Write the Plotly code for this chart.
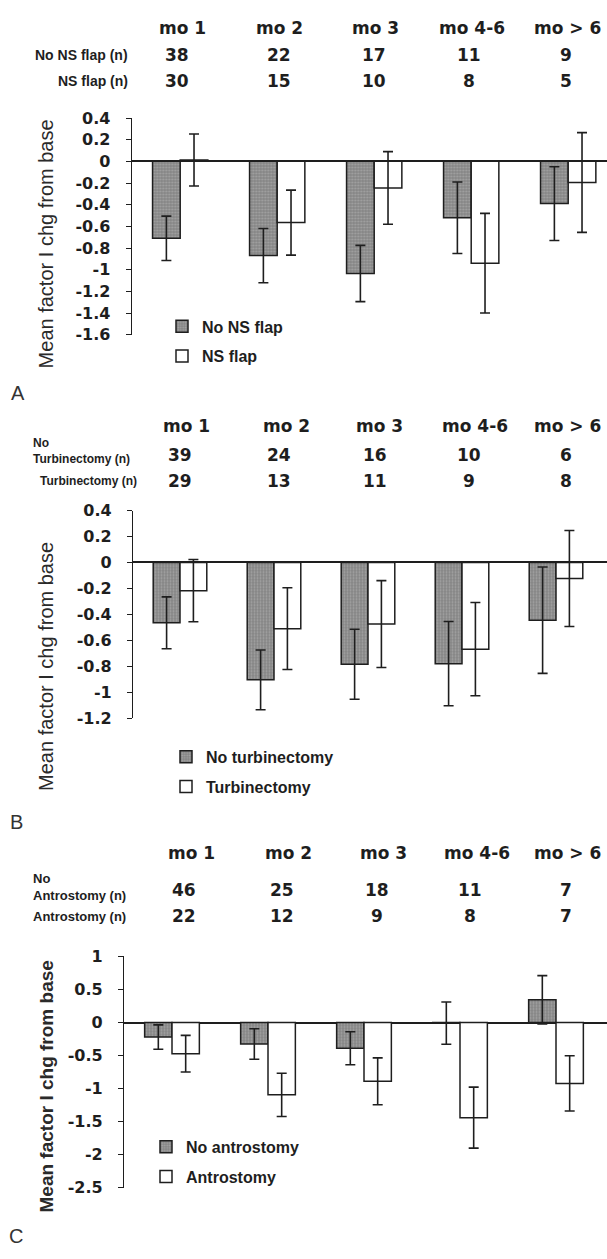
import plotly.graph_objects as go

W, H = 607, 1259

categories = ["mo 1", "mo 2", "mo 3", "mo 4-6", "mo > 6"]

# Panel A: nasoseptal flap
a_row_labels = ["No NS flap (n)", "NS flap (n)"]
a_n_no = [38, 22, 17, 11, 9]
a_n_yes = [30, 15, 10, 8, 5]
a_no = [-0.71, -0.87, -1.035, -0.52, -0.39]
a_no_err = [0.205, 0.25, 0.26, 0.33, 0.34]
a_yes = [0.012, -0.565, -0.245, -0.94, -0.195]
a_yes_err = [0.24, 0.30, 0.335, 0.46, 0.46]
a_legend = ["No NS flap", "NS flap"]
a_ticks = [0.4, 0.2, 0, -0.2, -0.4, -0.6, -0.8, -1, -1.2, -1.4, -1.6]

# Panel B: turbinectomy
b_row_labels = ["No<br>Turbinectomy (n)", "Turbinectomy (n)"]
b_n_no = [39, 24, 16, 10, 6]
b_n_yes = [29, 13, 11, 9, 8]
b_no = [-0.465, -0.905, -0.785, -0.78, -0.445]
b_no_err = [0.20, 0.23, 0.27, 0.325, 0.41]
b_yes = [-0.217, -0.51, -0.475, -0.668, -0.123]
b_yes_err = [0.24, 0.315, 0.335, 0.36, 0.37]
b_legend = ["No turbinectomy", "Turbinectomy"]
b_ticks = [0.4, 0.2, 0, -0.2, -0.4, -0.6, -0.8, -1, -1.2]

# Panel C: antrostomy
c_row_labels = ["No<br>Antrostomy (n)", "Antrostomy (n)"]
c_n_no = [46, 25, 18, 11, 7]
c_n_yes = [22, 12, 9, 8, 7]
c_no = [-0.22, -0.325, -0.39, -0.01, 0.345]
c_no_err = [0.185, 0.23, 0.25, 0.32, 0.365]
c_yes = [-0.472, -1.095, -0.89, -1.44, -0.922]
c_yes_err = [0.278, 0.328, 0.355, 0.462, 0.418]
c_legend = ["No antrostomy", "Antrostomy"]
c_ticks = [1, 0.5, 0, -0.5, -1, -1.5, -2, -2.5]

y_title = "Mean factor I chg from base"


def px(x):
    return x / W


def py(y):
    return 1 - y / H


def tick_text(v):
    if v == int(v):
        return str(int(v))
    return ("%g" % v)


INK = "#1e1e1e"
GRAY = "#8d8d8d"
BAR_FONT = "DejaVu Sans"
TXT_FONT = "Liberation Sans, Arial, sans-serif"

fig = go.Figure()

panels = [
    dict(key="", no=a_no, no_err=a_no_err, yes=a_yes, yes_err=a_yes_err,
         legend=a_legend, lg="legend", ticks=a_ticks),
    dict(key="2", no=b_no, no_err=b_no_err, yes=b_yes, yes_err=b_yes_err,
         legend=b_legend, lg="legend2", ticks=b_ticks),
    dict(key="3", no=c_no, no_err=c_no_err, yes=c_yes, yes_err=c_yes_err,
         legend=c_legend, lg="legend3", ticks=c_ticks),
]

for i, p in enumerate(panels):
    xa = "x" + p["key"]
    ya = "y" + p["key"]
    fig.add_trace(go.Bar(
        x=categories, y=p["no"], name=p["legend"][0], xaxis=xa, yaxis=ya,
        legend=p["lg"], legendgroup="g%d0" % i,
        marker=dict(color=GRAY, line=dict(color=INK, width=1.5),
                    pattern=dict(shape=".", fgcolor="#c4c4c4", bgcolor="#858585",
                                 size=3, solidity=0.35)),
        error_y=dict(type="data", array=p["no_err"], visible=True,
                     color=INK, thickness=1.6, width=5),
    ))
    fig.add_trace(go.Bar(
        x=categories, y=p["yes"], name=p["legend"][1], xaxis=xa, yaxis=ya,
        legend=p["lg"], legendgroup="g%d1" % i,
        marker=dict(color="white", line=dict(color=INK, width=1.5)),
        error_y=dict(type="data", array=p["yes_err"], visible=True,
                     color=INK, thickness=1.6, width=5),
    ))

# axis geometry (pixel positions)
geom = [
    # axis x px, category spacing px, y top px, y bottom px
    (131.7, 97.0, 110.7, 330.7),
    (133.0, 94.0, 509.3, 720.0),
    (124.0, 96.0, 962.0, 1196.7),
]

axis_common_y = dict(
    showgrid=False, zeroline=True, zerolinecolor=INK, zerolinewidth=1.6,
    showline=True, linecolor=INK, linewidth=1.2,
    ticks="outside", ticklen=5, tickcolor=INK, tickwidth=1.2,
    ticklabelstandoff=12,
    tickfont=dict(family=BAR_FONT, size=16, color=INK, weight="bold"),
)

for i, (p, g) in enumerate(zip(panels, geom)):
    ax_x, sp, ytop, ybot = g
    right = -0.5 + (W - ax_x) / sp
    ticks = p["ticks"]
    xname = "xaxis" + p["key"]
    yname = "yaxis" + p["key"]
    fig.update_layout(**{
        xname: dict(domain=[px(ax_x), 1], range=[-0.5, right], visible=False,
                    anchor="y" + p["key"], type="category",
                    categoryorder="array", categoryarray=categories),
        yname: dict(domain=[py(ybot), py(ytop)],
                    range=[min(ticks), max(ticks)],
                    tickvals=ticks, ticktext=[tick_text(t) for t in ticks],
                    anchor="x" + p["key"], **axis_common_y),
    })

annotations = []

def add_text(x, y, text, size, family=TXT_FONT, bold=True, xanchor="center",
             align="center", angle=0, color=INK):
    annotations.append(dict(
        x=px(x), y=py(y), xref="paper", yref="paper", text=text,
        showarrow=False, xanchor=xanchor, yanchor="middle", align=align,
        textangle=angle,
        font=dict(family=family, size=size, color=color,
                  weight="bold" if bold else "normal"),
    ))

# header blocks
headers = [
    dict(y=(19.3, 46.7, 73.3), hx=[182, 279, 375, 472, 567],
         nx=[177, 279, 374, 469, 566], n1=a_n_no, n2=a_n_yes,
         labels=a_row_labels, lab_size=14),
    dict(y=(423.3, 452.5, 479.0), hx=[186, 286, 379, 475, 567],
         nx=[180, 279, 375, 469, 566], n1=b_n_no, n2=b_n_yes,
         labels=b_row_labels, lab_size=12),
    dict(y=(856.7, 895.0, 921.0), hx=[192, 288, 383, 477, 567],
         nx=[184, 282, 377, 470, 566], n1=c_n_no, n2=c_n_yes,
         labels=c_row_labels, lab_size=13),
]

for hi, h in enumerate(headers):
    y0, y1, y2 = h["y"]
    for cat, x in zip(categories, h["hx"]):
        add_text(x, y0, cat, 17, family=BAR_FONT)
    for n, x in zip(h["n1"], h["nx"]):
        add_text(x, y1, str(n), 17, family=BAR_FONT)
    for n, x in zip(h["n2"], h["nx"]):
        add_text(x, y2, str(n), 17, family=BAR_FONT)
    if hi == 0:
        add_text(130, y1, h["labels"][0], h["lab_size"], xanchor="right", align="right")
        add_text(130, y2, h["labels"][1], h["lab_size"], xanchor="right", align="right")
    else:
        add_text(31, y1 - 4, h["labels"][0], h["lab_size"], xanchor="left", align="left")
        add_text(31 if hi == 2 else 38, y2, h["labels"][1], h["lab_size"], xanchor="left", align="left")

# y-axis titles
add_text(46, 239, y_title, 20, bold=False, angle=-90, color="#2a2a2a")
add_text(46, 668, y_title, 20, bold=False, angle=-90, color="#2a2a2a")
add_text(46, 1094, y_title, 19, bold=True, angle=-90, color="#2a2a2a")

# panel letters
add_text(18, 390, "A", 20, bold=False, color="#333333")
add_text(16, 825, "B", 20, bold=False, color="#333333")
add_text(16, 1246, "C", 20, bold=False, color="#333333")

legend_common = dict(
    xanchor="left", yanchor="top", bgcolor="rgba(0,0,0,0)",
    font=dict(family=TXT_FONT, size=16, color=INK, weight="bold"),
    tracegroupgap=6, traceorder="grouped", itemclick=False,
)

fig.update_layout(
    width=W, height=H,
    margin=dict(l=0, r=0, t=0, b=0),
    paper_bgcolor="white", plot_bgcolor="white",
    barmode="group", bargap=0.43, bargroupgap=0,
    showlegend=True,
    legend=dict(x=px(162), y=py(305), **legend_common),
    legend2=dict(x=px(166), y=py(742), **legend_common),
    legend3=dict(x=px(146), y=py(1138), **legend_common),
    annotations=annotations,
)

fig.write_html("out.html")
